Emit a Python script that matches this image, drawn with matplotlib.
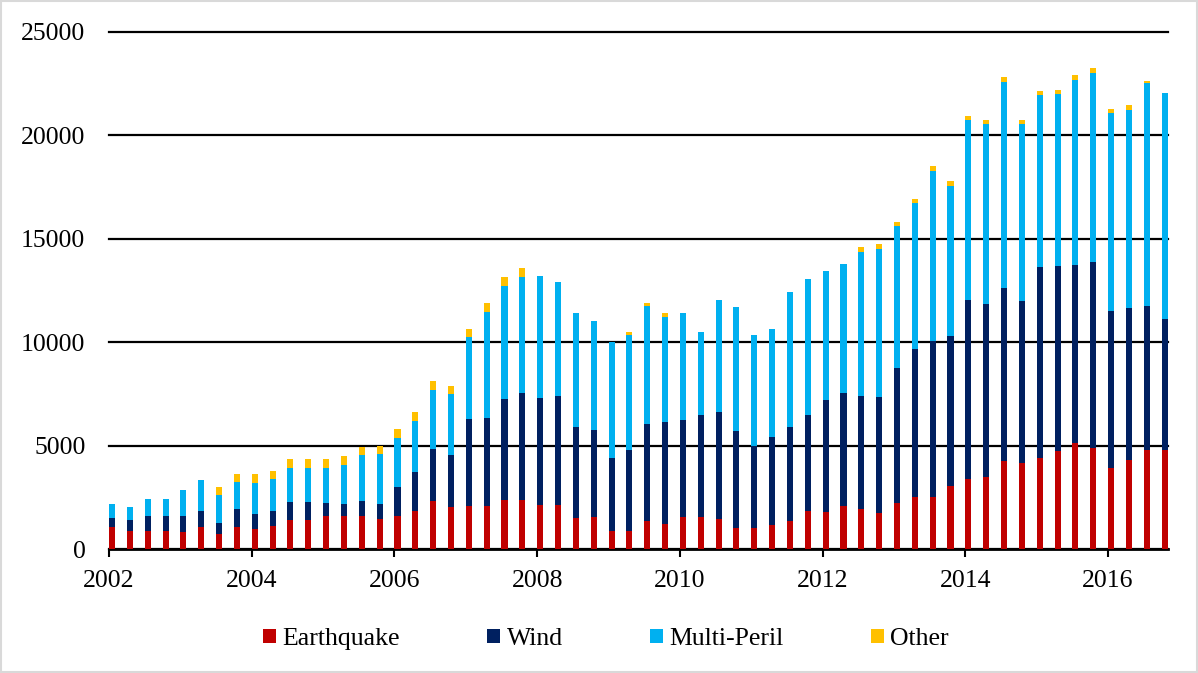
import numpy as np
import pandas as pd
import matplotlib
matplotlib.use('Agg')
import matplotlib.pyplot as plt
from matplotlib.patches import Rectangle

# Quarterly values, 2002Q1 - 2016Q4
quarters = pd.period_range('2002Q1', '2016Q4', freq='Q')

earthquake = [1080, 860, 860, 870, 840, 1060, 710, 1050, 950, 1100,
              1400, 1400, 1580, 1580, 1580, 1470, 1610, 1820, 2300, 2030,
              2080, 2080, 2350, 2350, 2110, 2110, 1480, 1560, 870, 870,
              1370, 1190, 1550, 1550, 1450, 1000, 1000, 1160, 1350, 1820,
              1790, 2100, 1950, 1730, 2230, 2520, 2520, 3060, 3370, 3470,
              4240, 4180, 4400, 4760, 5140, 4870, 3900, 4290, 4790, 4790]

wind = [440, 520, 740, 740, 740, 790, 570, 870, 730, 740,
        890, 890, 660, 610, 760, 720, 1400, 1920, 2530, 2530,
        4210, 4270, 4920, 5180, 5210, 5270, 4420, 4180, 3550, 3900,
        4680, 4970, 4710, 4930, 5190, 4720, 3970, 4270, 4560, 4680,
        5430, 5450, 5470, 5640, 6530, 7170, 7530, 7250, 8690, 8400,
        8380, 7820, 9250, 8930, 8610, 9000, 7630, 7380, 6980, 6350]

multi_peril = [650, 660, 810, 810, 1290, 1470, 1310, 1340, 1530, 1530,
               1640, 1640, 1690, 1870, 2190, 2420, 2370, 2470, 2870, 2920,
               3950, 5130, 5470, 5630, 5900, 5510, 5500, 5290, 5590, 5580,
               5720, 5080, 5160, 4010, 5420, 5960, 5380, 5190, 6500, 6550,
               6220, 6220, 6960, 7160, 6840, 7060, 8250, 7250, 8670, 8660,
               9980, 8540, 8290, 8290, 8950, 9170, 9560, 9580, 10740, 10930]

other = [0, 0, 0, 0, 0, 0, 420, 390, 420, 400,
         400, 420, 420, 430, 420, 390, 420, 400, 420, 420,
         420, 420, 420, 420, 0, 0, 0, 0, 0, 150,
         130, 150, 0, 0, 0, 0, 0, 0, 0, 0,
         0, 0, 210, 230, 210, 190, 210, 230, 230, 230,
         230, 210, 210, 230, 230, 230, 210, 210, 130, 0]

series_names = ['Earthquake', 'Wind', 'Multi-Peril', 'Other']
series_colors = ['#C00000', '#002060', '#00B0F0', '#FFC000']

plt.rcParams['font.family'] = ['Liberation Serif', 'DejaVu Serif']
plt.rcParams['font.size'] = 18.5

fig = plt.figure(figsize=(11.98, 6.73), dpi=100)
ax = fig.add_axes([109 / 1198, 124 / 673, 1059 / 1198, 517 / 673])

# stacked bars, one per quarter
x = quarters.year + (quarters.quarter - 1) / 4
bottom = np.zeros(len(quarters))
for name, values, color in zip(series_names,
                               [earthquake, wind, multi_peril, other],
                               series_colors):
    ax.bar(x, values, width=0.085, bottom=bottom, align='edge',
           color=color, label=name, zorder=3)
    bottom += np.array(values)

ax.set_ylim(0, 25000)
ax.set_yticks(range(0, 25001, 5000))
ax.set_xlim(2002, 2016.84)
ax.set_xticks(range(2002, 2017, 2))

ax.yaxis.grid(True, color='black', linewidth=1.6)
ax.set_axisbelow(True)
# keep the top gridline at full width
for line in ax.get_ygridlines():
    line.set_clip_on(False)

for side in ['top', 'right', 'left']:
    ax.spines[side].set_visible(False)
ax.spines['bottom'].set_linewidth(2)
ax.spines['bottom'].set_color('black')

ax.tick_params(axis='x', direction='out', length=6, width=1.5, pad=9)
ax.tick_params(axis='y', length=0, pad=17)

fig.legend(loc='center', bbox_to_anchor=(606 / 1198, 1 - 639 / 673),
           ncol=4, frameon=False, handlelength=0.5, handleheight=0.5,
           handletextpad=0.25, columnspacing=3.4)

# light chart border
fig.patches.append(Rectangle((0.001, 0.001), 0.998, 0.997,
                             transform=fig.transFigure, fill=False,
                             edgecolor='#D9D9D9', linewidth=1.5))

fig.savefig('out.png', dpi=100)
